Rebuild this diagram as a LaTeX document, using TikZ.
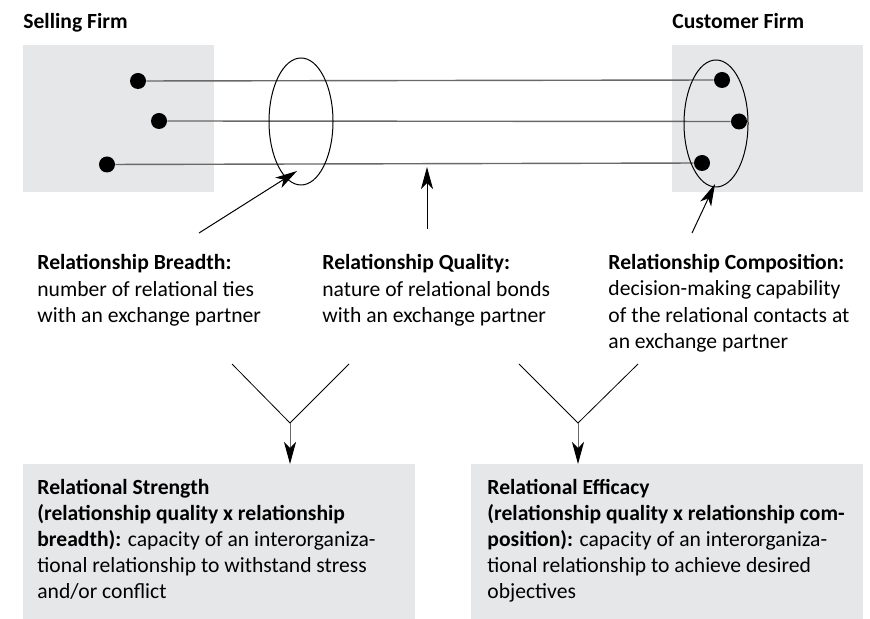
\documentclass[tikz,border=0pt]{standalone}
\usepackage{fontspec}
\setmainfont{Carlito}
\usetikzlibrary{arrows.meta, positioning, shapes.geometric}
\definecolor{panelgrey}{RGB}{230,231,232}
\definecolor{tiegrey}{RGB}{105,105,105}
\tikzset{
  lbl/.style = {align=left, inner sep=0pt, anchor=base west,
    font=\fontsize{10.8}{13}\selectfont},
  dot/.style = {circle, fill=black, inner sep=0pt, minimum size=8pt},
  ring/.style = {ellipse, draw=black, line width=0.5pt, inner sep=0pt,
    minimum width=32pt, minimum height=63.5pt},
  tie/.style = {draw=tiegrey, line width=0.7pt},
  panel/.style = {fill=panelgrey, inner sep=0pt, anchor=north west},
  pointer/.style = {-{Stealth[length=11pt,width=6pt,inset=3pt,color=black]},
    line width=0.5pt}
}

\begin{document}
\begin{tikzpicture}[x=0.5pt, y=-0.5pt]
\useasboundingbox (0,0) rectangle (870,619);
% firms
\node [panel, minimum width=95.5pt, minimum height=73.5pt] (sell) at (23,45) {};
\node [panel, minimum width=95.5pt, minimum height=73.5pt] (cust) at (672,45) {};
\node [lbl, font=\fontsize{10.8}{13}\selectfont\bfseries] (selltitle) at (23,29) {Selling Firm};
\node [lbl, font=\fontsize{10.8}{13}\selectfont\bfseries] (custtitle) at (672,29) {Customer Firm};
\node [dot] (s1) at (138,81) {};
\node [dot] (s2) at (159,121) {};
\node [dot] (s3) at (107,164.5) {};
\node [dot] (c1) at (722,80) {};
\node [dot] (c2) at (739,121.5) {};
\node [dot] (c3) at (702,163) {};
\draw [tie] (s1) -- (c1);
\draw [tie] (s2) -- (c2);
\draw [tie] (s3) -- (c3);
\node [ring] (breadthring) at (301,121.5) {};
\node [ring] (compring) at (716,123.5) {};
% dimensions (anchored at the last line)
\node [lbl] (breadth) at (37,322) {\textbf{Relationship Breadth:}\\number of relational ties\\with an exchange partner};
\node [lbl] (quality) at (322,322) {\textbf{Relationship Quality:}\\nature of relational bonds\\with an exchange partner};
\node [lbl] (comp) at (608,348) {\textbf{Relationship Composition:}\\decision-making capability\\of the relational contacts at\\an exchange partner};
\coordinate (breadthtail) at (199,233);
\coordinate (breadthtip) at (297,171);
\coordinate (qualitytail) at (427,229);
\coordinate (qualitytip) at (427,167);
\coordinate (comptail) at (692,233);
\coordinate (comptip) at (715,184);
\draw [pointer] (breadthtail) -- (breadthtip);
\draw [pointer] (qualitytail) -- (qualitytip);
\draw [pointer] (comptail) -- (comptip);
% outcomes
\node [panel, minimum width=196pt, minimum height=77.5pt] (strength) at (23,464) {};
\node [panel, minimum width=196pt, minimum height=77.5pt] (efficacy) at (471,464) {};
\node [lbl] (strengthtxt) at (37,598) {\textbf{Relational Strength}\\\textbf{(relationship quality x relationship}\\\textbf{breadth):} capacity of an interorganiza-\\tional relationship to withstand stress\\and/or conflict};
\node [lbl] (efficacytxt) at (487,598) {\textbf{Relational Efficacy}\\\textbf{(relationship quality x relationship com-}\\\textbf{position):} capacity of an interorganiza-\\tional relationship to achieve desired\\objectives};
\coordinate (vl1) at (232,364);
\coordinate (vr1) at (349,364);
\coordinate (apex1) at (290,423);
\coordinate (vl2) at (519,364);
\coordinate (vr2) at (638,364);
\coordinate (apex2) at (578,423);
\draw [line width=0.4pt] (vl1) -- (apex1) -- (vr1);
\draw [line width=0.4pt] (vl2) -- (apex2) -- (vr2);
\draw [pointer, tiegrey] (apex1) -- (apex1 |- strength.north);
\draw [pointer, tiegrey] (apex2) -- (apex2 |- efficacy.north);
\end{tikzpicture}
\end{document}
